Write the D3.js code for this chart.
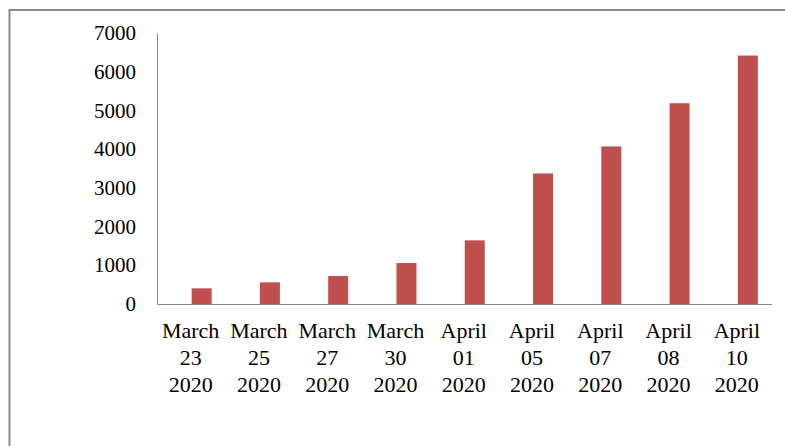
<!DOCTYPE html>
<html><head><meta charset="utf-8">
<script src="https://cdn.jsdelivr.net/npm/d3@7"></script>
<style>body{margin:0;background:#fff}svg{display:block}</style>
</head><body>
<script>
const categories = [["March","23","2020"],["March","25","2020"],["March","27","2020"],["March","30","2020"],["April","01","2020"],["April","05","2020"],["April","07","2020"],["April","08","2020"],["April","10","2020"]];
const values = [405, 560, 723, 1059, 1646, 3376, 4074, 5192, 6424];
const yTicks = [0,1000,2000,3000,4000,5000,6000,7000];
const seriesSlots = ["empty","cases"];

(function(){
const W=785,H=446;
const svg=d3.select("body").append("svg").attr("width",W).attr("height",H);
svg.append("rect").attr("x",9.5).attr("y",10).attr("width",W+20).attr("height",H+20)
  .attr("fill","none").attr("stroke","#8a8a8a").attr("stroke-width",2);

const pl=157.5,pr=772,pt=33.3,pb=304;
const keys=categories.map(d=>d.join(" "));
const x=d3.scaleBand().domain(keys).range([pl,pr]).paddingInner(0).paddingOuter(0);
const x1=d3.scaleBand().domain(seriesSlots).range([0,x.bandwidth()]).paddingInner(0).paddingOuter(0.707);
const y=d3.scaleLinear().domain([0,7000]).range([pb,pt]);

svg.selectAll("rect.bar").data(values).join("rect").attr("class","bar")
  .attr("x",(d,i)=>x(keys[i])+x1("cases"))
  .attr("width",x1.bandwidth())
  .attr("y",d=>y(d)).attr("height",d=>y(0)-y(d))
  .attr("fill","#c0504d");

svg.append("line").attr("x1",pl).attr("x2",pl).attr("y1",y(7000)).attr("y2",y(0)).attr("stroke","#868686");
svg.append("line").attr("x1",pl).attr("x2",pr).attr("y1",y(0)+0.5).attr("y2",y(0)+0.5).attr("stroke","#868686");

const font="'Liberation Serif','Times New Roman',serif";
svg.selectAll("text.yt").data(yTicks).join("text").attr("class","yt")
  .attr("x",136).attr("y",d=>y(d)).attr("dy","0.33em").attr("text-anchor","end")
  .attr("font-family",font).attr("font-size",21).attr("fill","#000").text(d=>d);

const g=svg.selectAll("text.xt").data(categories).join("text").attr("class","xt")
  .attr("text-anchor","middle").attr("font-family",font).attr("font-size",22).attr("fill","#000");
g.selectAll("tspan").data((d,i)=>d.map(s=>({s,i}))).join("tspan")
  .attr("x",d=>x(keys[d.i])+x.bandwidth()/2-1)
  .attr("y",(d,j)=>338+j*27).text(d=>d.s);
})();
</script>
</body></html>
